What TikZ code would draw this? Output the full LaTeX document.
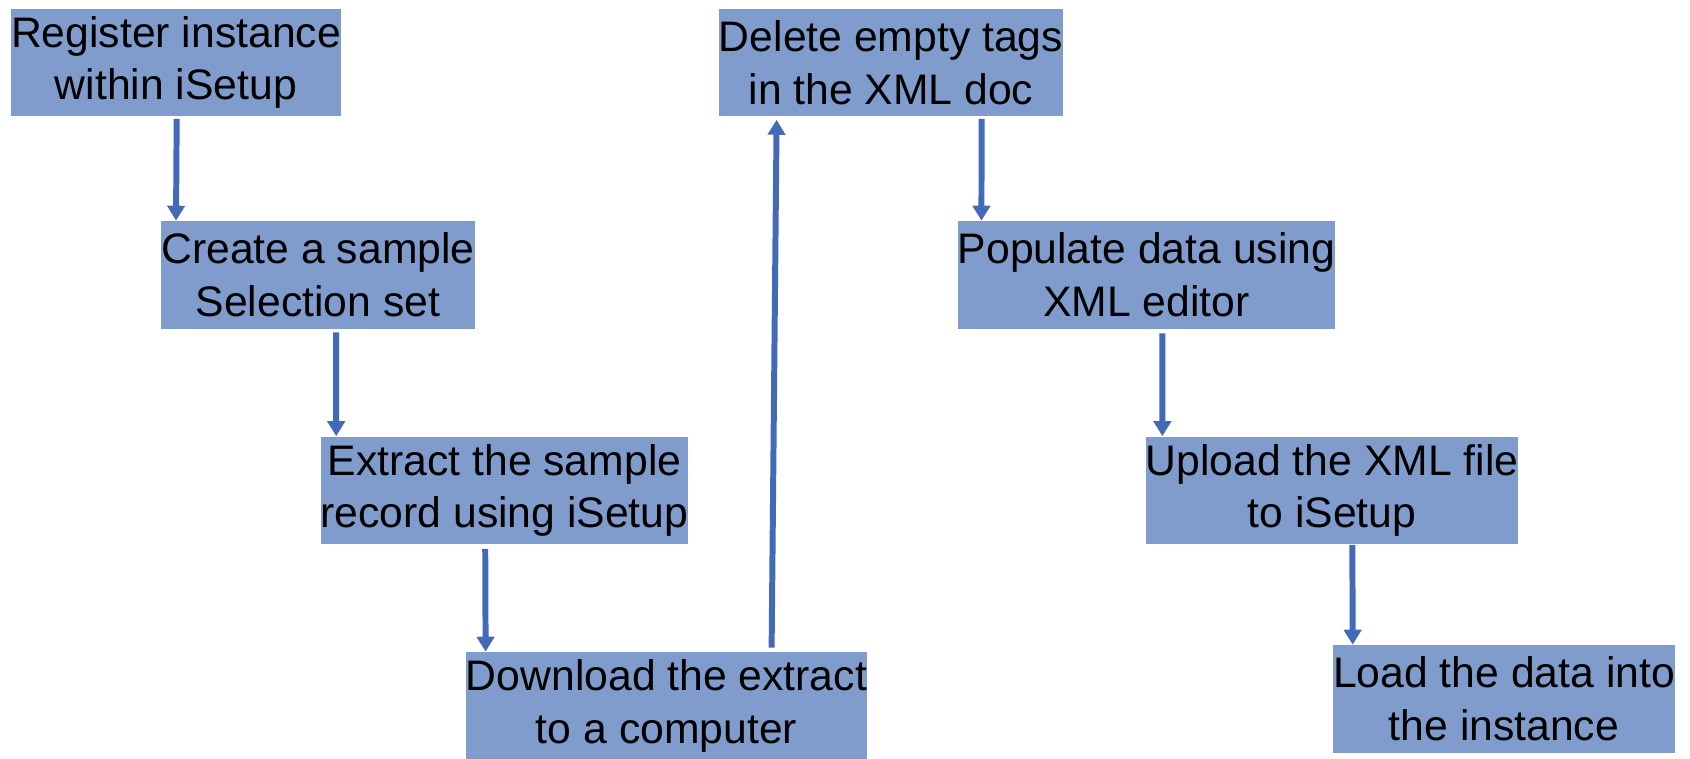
\documentclass[tikz,border=0pt]{standalone}
\usepackage{fontspec}
\setmainfont{Liberation Sans}
\usepackage{tikz}
\usetikzlibrary{arrows.meta,calc}
\definecolor{boxfill}{RGB}{127,156,204}
\definecolor{arrowblue}{RGB}{66,106,182}

\begin{document}
\begin{tikzpicture}[x=0.02cm,y=-0.02cm,
  stepbox/.style={fill=boxfill,inner sep=0pt,minimum height=2.16cm,align=center,
    font=\fontsize{24.3}{30}\selectfont},
  flow/.style={draw=arrowblue,line width=3.4pt,-{Triangle[length=8.5pt,width=9.8pt]}}]
\useasboundingbox (0,0) rectangle (1690,759);
\node [stepbox,minimum width=6.6cm] (reg) at (176,62.5) {Register instance\\within iSetup};
\node [stepbox,minimum width=6.24cm] (create) at (318,275) {Create a sample\\Selection set};
\node [stepbox,minimum width=7.34cm] (extract) at (504.5,490.5) {Extract the sample\\record using iSetup};
\node [stepbox,minimum width=8.02cm] (download) at (666.5,706) {Download the extract\\to a computer};
\node [stepbox,minimum width=6.88cm] (delete) at (891,62.5) {Delete empty tags\\in the XML doc};
\node [stepbox,minimum width=7.54cm] (populate) at (1146.5,275) {Populate data using\\XML editor};
\node [stepbox,minimum width=7.44cm] (upload) at (1332,490.5) {Upload the XML file\\to iSetup};
\node [stepbox,minimum width=6.84cm] (load) at (1504,699) {Load the data into\\the instance};

\draw [flow] ($(reg.south west)+(166,2)$) -- ($(create.north west)+(15,0)$);
\draw [flow] ($(create.south west)+(175,3)$) -- ($(extract.north west)+(16,0)$);
\draw [flow] ($(extract.south west)+(165,4)$) -- ($(download.north west)+(20,0)$);
\draw [flow] ($(download.north west)+(306,-4)$) -- ($(delete.south west)+(58,3)$);
\draw [flow] ($(delete.south west)+(263,2)$) -- ($(populate.north west)+(24,0)$);
\draw [flow] ($(populate.south west)+(205,4)$) -- ($(upload.north west)+(17,0)$);
\draw [flow] ($(upload.south west)+(207,0)$) -- ($(load.north west)+(20,0)$);
\end{tikzpicture}
\end{document}
